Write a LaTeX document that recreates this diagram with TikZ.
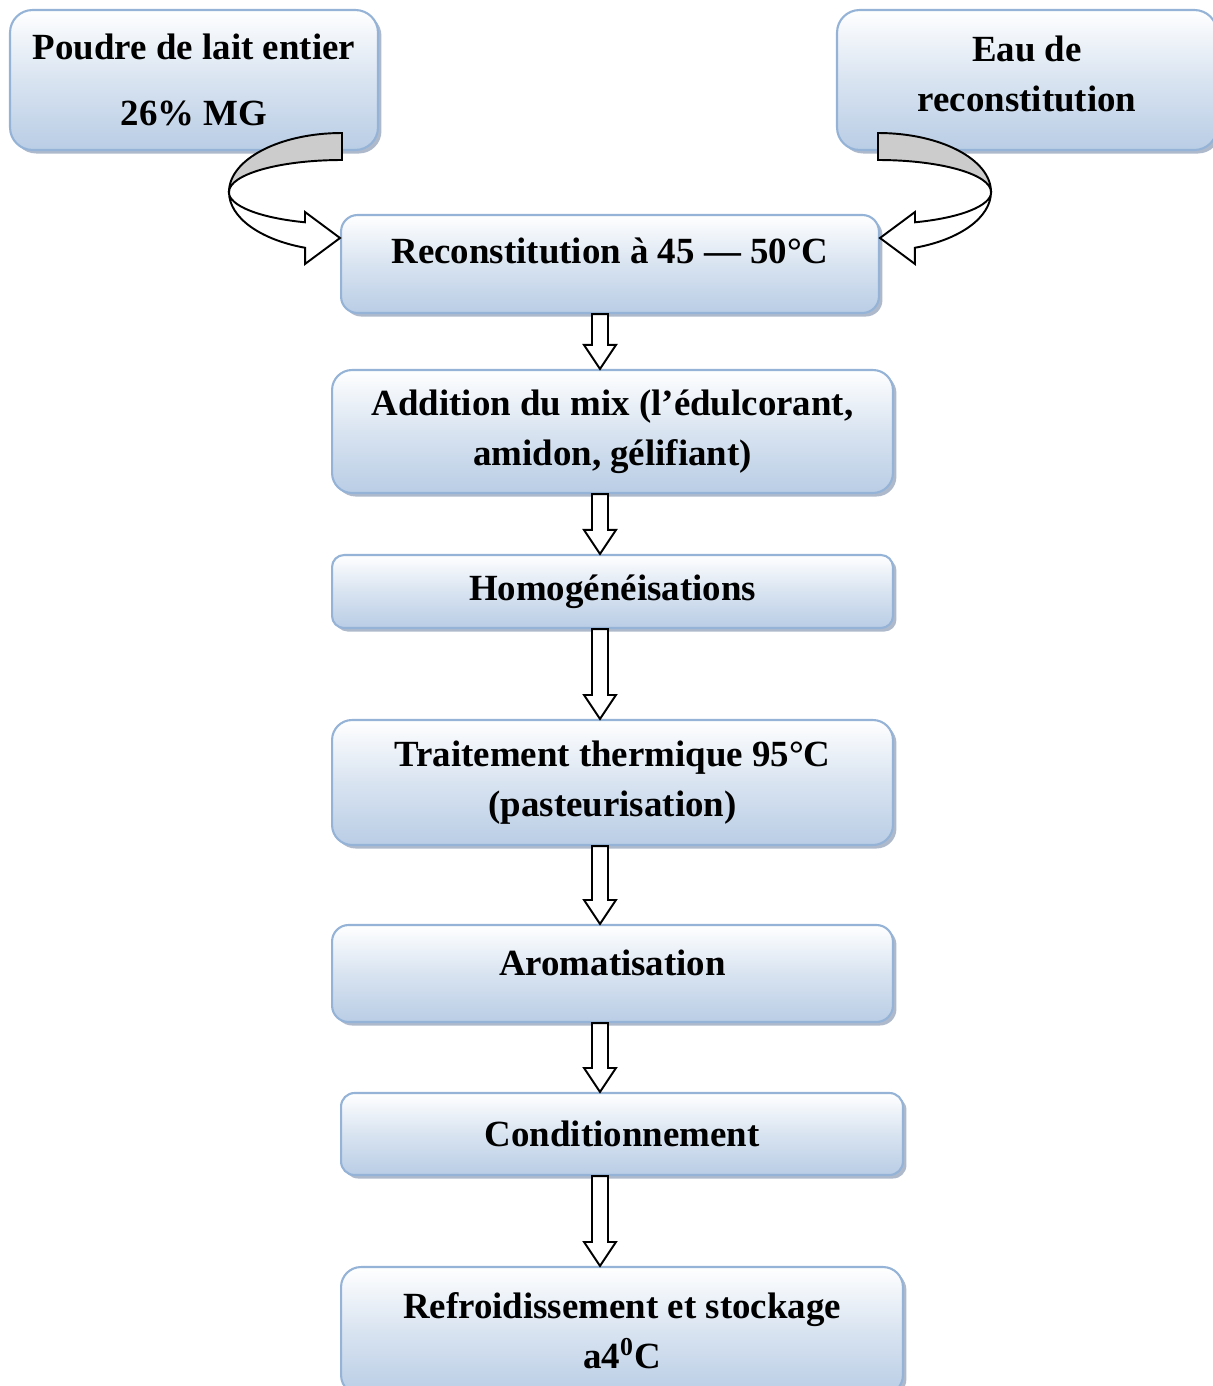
\documentclass[tikz,border=0pt]{standalone}
\usepackage{fontspec}
\setmainfont{Liberation Serif}
\usetikzlibrary{positioning,calc,shadows}
\definecolor{cadre}{RGB}{149,179,215}
\definecolor{fond}{RGB}{185,205,229}
\definecolor{ombre}{RGB}{120,140,170}
\definecolor{gris}{RGB}{204,204,204}

\newcommand{\flecheBas}[2]{%
\draw[fleche] ($(#1.south -| axe)+(-8,0)$) -- ($(#1.south -| axe)+(8,0)$)
  -- ($(#2.north -| axe)+(8,-24)$) -- ($(#2.north -| axe)+(16,-24)$) -- (#2.north -| axe)
  -- ($(#2.north -| axe)+(-16,-24)$) -- ($(#2.north -| axe)+(-8,-24)$) -- cycle;}

\begin{document}
\begin{tikzpicture}[x=0.02cm,y=-0.02cm,
  etape/.style={draw=cadre,line width=1.2pt,rounded corners=#1,
    top color=white,bottom color=fond,middle color=fond!55!white,
    drop shadow={shadow xshift=2pt,shadow yshift=-2pt,fill=ombre,opacity=.6},
    font=\fontsize{21}{28.4}\selectfont\bfseries,align=center,inner sep=0pt},
  etape/.default=0.4cm,
  fleche/.style={draw=black,fill=white,line width=1.1pt,line join=miter}]
\useasboundingbox (0,0) rectangle (1213,1386);
\clip (0,0) rectangle (1213,1386);

\node[etape=0.45cm,minimum width=7.36cm,minimum height=2.8cm] (poudre) at (194,80) {Poudre de lait entier\\[9pt]26\% MG};
\node[etape=0.45cm,minimum width=7.6cm,minimum height=2.8cm,text depth=0.24cm] (eau) at (1027,80) {Eau de\\reconstitution};
\node[etape=0.33cm,minimum width=10.76cm,minimum height=1.96cm,text depth=0.52cm] (recons) at (610,264) {Reconstitution à 45 — 50°C};
\node[etape,minimum width=11.22cm,minimum height=2.46cm] (mix) at (612.5,431.5) {Addition du mix (l’édulcorant,\\amidon, gélifiant)};
\node[etape=0.24cm,minimum width=11.22cm,minimum height=1.46cm] (homog) at (612.5,591.5) {Homogénéisations};
\node[etape,minimum width=11.22cm,minimum height=2.5cm] (trait) at (612.5,782.5) {Traitement thermique 95°C\\(pasteurisation)};
\node[etape=0.33cm,minimum width=11.22cm,minimum height=1.94cm,text depth=0.44cm] (arom) at (612.5,973.5) {Aromatisation};
\node[etape=0.27cm,minimum width=11.24cm,minimum height=1.64cm] (condi) at (622,1134) {Conditionnement};
\node[etape,minimum width=11.24cm,minimum height=2.56cm] (refroid) at (622,1331) {Refroidissement et stockage\\a4\textsuperscript{0}C};

\coordinate (axe) at (600,0);
\flecheBas{recons}{mix}
\flecheBas{mix}{homog}
\flecheBas{homog}{trait}
\flecheBas{trait}{arom}
\flecheBas{arom}{condi}
\flecheBas{condi}{refroid}

\coordinate (cg) at (342,192);
\draw[fleche,fill=gris] (cg) ++(0,-59) arc[start angle=270,end angle=180,x radius=113,y radius=59]
  arc[start angle=180,end angle=270,x radius=113,y radius=32] -- cycle;
\draw[fleche] (cg) ++(-113,0) arc[start angle=180,end angle=109,x radius=113,y radius=59]
  -- (305,264) -- ($(recons.west)+(0,-26)$) -- (305,212) -- (305,222.3)
  arc[start angle=109,end angle=180,x radius=113,y radius=32] -- cycle;

\coordinate (cd) at (878,192);
\draw[fleche,fill=gris] (cd) ++(0,-59) arc[start angle=270,end angle=360,x radius=113,y radius=59]
  arc[start angle=0,end angle=-90,x radius=113,y radius=32] -- cycle;
\draw[fleche] (cd) ++(113,0) arc[start angle=0,end angle=71,x radius=113,y radius=59]
  -- (915,264) -- ($(recons.east)+(0,-26)$) -- (915,212) -- (915,222.3)
  arc[start angle=71,end angle=0,x radius=113,y radius=32] -- cycle;
\end{tikzpicture}
\end{document}
